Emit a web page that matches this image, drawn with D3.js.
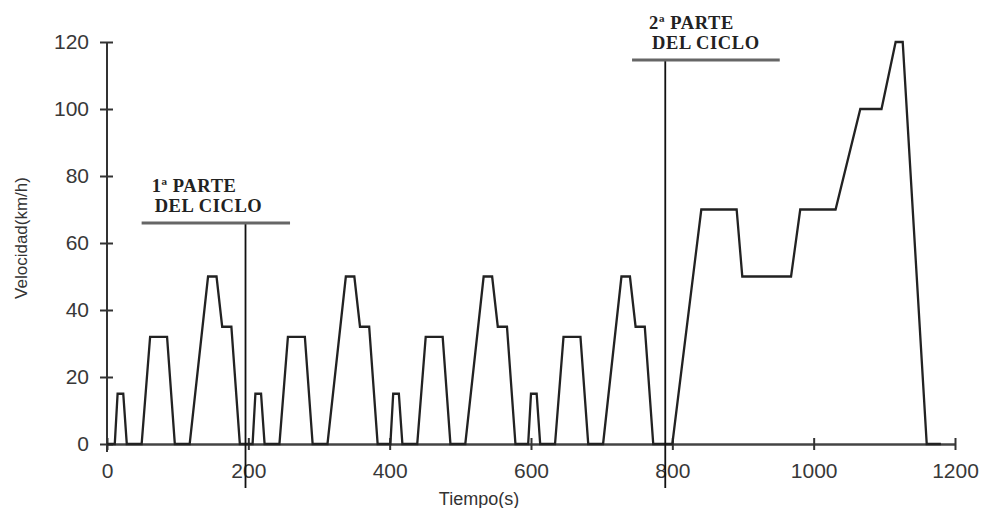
<!DOCTYPE html>
<html>
<head>
<meta charset="utf-8">
<script src="https://cdn.jsdelivr.net/npm/d3@7"></script>
<style>
  body { margin: 0; background: #fff; }
  svg { display: block; }
  .tick text { font-family: "Liberation Sans", Arial, sans-serif; font-size: 21px; fill: #383838; }
  .note { font-family: "Liberation Serif", "Times New Roman", serif; font-weight: bold; font-size: 18.5px; fill: #222; letter-spacing: 0.6px; }
</style>
</head>
<body>
<script>
// tiempo (s) y velocidad (km/h) del ciclo
const tiempos = [
    0, 11, 15, 23, 28, 49, 61, 85, 96, 117, 143, 155, 163, 176, 188,
    206, 210, 218, 223, 244, 256, 280, 291, 312, 338, 350, 358, 371, 383,
    401, 405, 413, 418, 439, 451, 475, 486, 507, 533, 545, 553, 566, 578,
    596, 600, 608, 613, 634, 646, 670, 681, 702, 728, 740, 748, 761, 773,
    800, 841, 891, 899, 968, 981, 1031, 1066, 1096, 1116, 1126, 1160, 1180
];
const velocidades = [
    0, 0, 15, 15, 0, 0, 32, 32, 0, 0, 50, 50, 35, 35, 0,
    0, 15, 15, 0, 0, 32, 32, 0, 0, 50, 50, 35, 35, 0,
    0, 15, 15, 0, 0, 32, 32, 0, 0, 50, 50, 35, 35, 0,
    0, 15, 15, 0, 0, 32, 32, 0, 0, 50, 50, 35, 35, 0,
    0, 70, 70, 50, 50, 70, 70, 100, 100, 120, 120, 0, 0
];
const ticksX = [0, 200, 400, 600, 800, 1000, 1200];
const ticksY = [0, 20, 40, 60, 80, 100, 120];

// marcas de las dos partes del ciclo (en unidades de datos)
const partes = [
    { lineas: ['1ª PARTE', 'DEL CICLO'], corte: 196, nivel: 66, desde: 49, hasta: 259 },
    { lineas: ['2ª PARTE', 'DEL CICLO'], corte: 790, nivel: 114.6, desde: 743, hasta: 952 }
];
const sangria = [10, 17];

const width = 982, height = 508;
const margin = { top: 42, left: 107, right: 27, bottom: 64 };

const svg = d3.select('body').append('svg')
    .attr('width', width)
    .attr('height', height);

const x = d3.scaleLinear().domain([0, 1200]).range([margin.left, width - margin.right]);
const y = d3.scaleLinear().domain([0, 120]).range([height - margin.bottom, margin.top]);

// ejes
const gx = svg.append('g')
    .attr('transform', 'translate(0,' + y(0) + ')')
    .call(d3.axisBottom(x).tickValues(ticksX).tickFormat(d3.format('d')).tickSizeOuter(0).tickPadding(13));
const gy = svg.append('g')
    .attr('transform', 'translate(' + x(0) + ',0)')
    .call(d3.axisLeft(y).tickValues(ticksY).tickSizeOuter(0).tickPadding(12));

gx.select('.domain').attr('stroke', '#444').attr('stroke-width', 2.5);
gy.select('.domain').attr('stroke', '#333').attr('stroke-width', 2);
gx.selectAll('.tick line').attr('y1', -6).attr('y2', 6).attr('stroke', '#333').attr('stroke-width', 2);
gy.selectAll('.tick line').attr('x1', -7).attr('x2', 6).attr('stroke', '#333').attr('stroke-width', 2);
gy.select('.domain').attr('d', 'M0,' + y(120) + 'V' + (y(0) + 8));

// curva de velocidad
const puntos = tiempos.map((t, i) => [t, velocidades[i]]);
svg.append('path')
    .datum(puntos)
    .attr('fill', 'none')
    .attr('stroke', '#222')
    .attr('stroke-width', 2.3)
    .attr('stroke-linejoin', 'miter')
    .attr('d', d3.line().x(d => x(d[0])).y(d => y(d[1])));

// anotaciones
partes.forEach((p, k) => {
    svg.append('line')
        .attr('x1', x(p.corte)).attr('x2', x(p.corte))
        .attr('y1', y(p.nivel)).attr('y2', height - 20)
        .attr('stroke', '#111').attr('stroke-width', 1.8);
    svg.append('line')
        .attr('x1', x(p.desde)).attr('x2', x(p.hasta))
        .attr('y1', y(p.nivel)).attr('y2', y(p.nivel))
        .attr('stroke', '#666').attr('stroke-width', 3);
    const x0 = x(p.desde) + sangria[k];
    const txt = svg.append('text')
        .attr('class', 'note')
        .attr('x', x0)
        .attr('y', y(p.nivel) - 31);
    p.lineas.forEach((l, i) => {
        txt.append('tspan')
            .attr('x', x0 + (i ? 3 : 0))
            .attr('dy', i ? 20 : 0)
            .text(l);
    });
});

// titulos de ejes
svg.append('text')
    .attr('x', x(600) - 52)
    .attr('y', height - 3)
    .attr('text-anchor', 'middle')
    .style('font-family', '"Liberation Sans", Arial, sans-serif')
    .style('font-size', '18px')
    .style('fill', '#333')
    .text('Tiempo(s)');

svg.append('text')
    .attr('transform', 'translate(27,' + 238 + ') rotate(-90)')
    .attr('text-anchor', 'middle')
    .style('font-family', '"Liberation Sans", Arial, sans-serif')
    .style('font-size', '17px')
    .style('fill', '#333')
    .text('Velocidad(km/h)');
</script>
</body>
</html>
